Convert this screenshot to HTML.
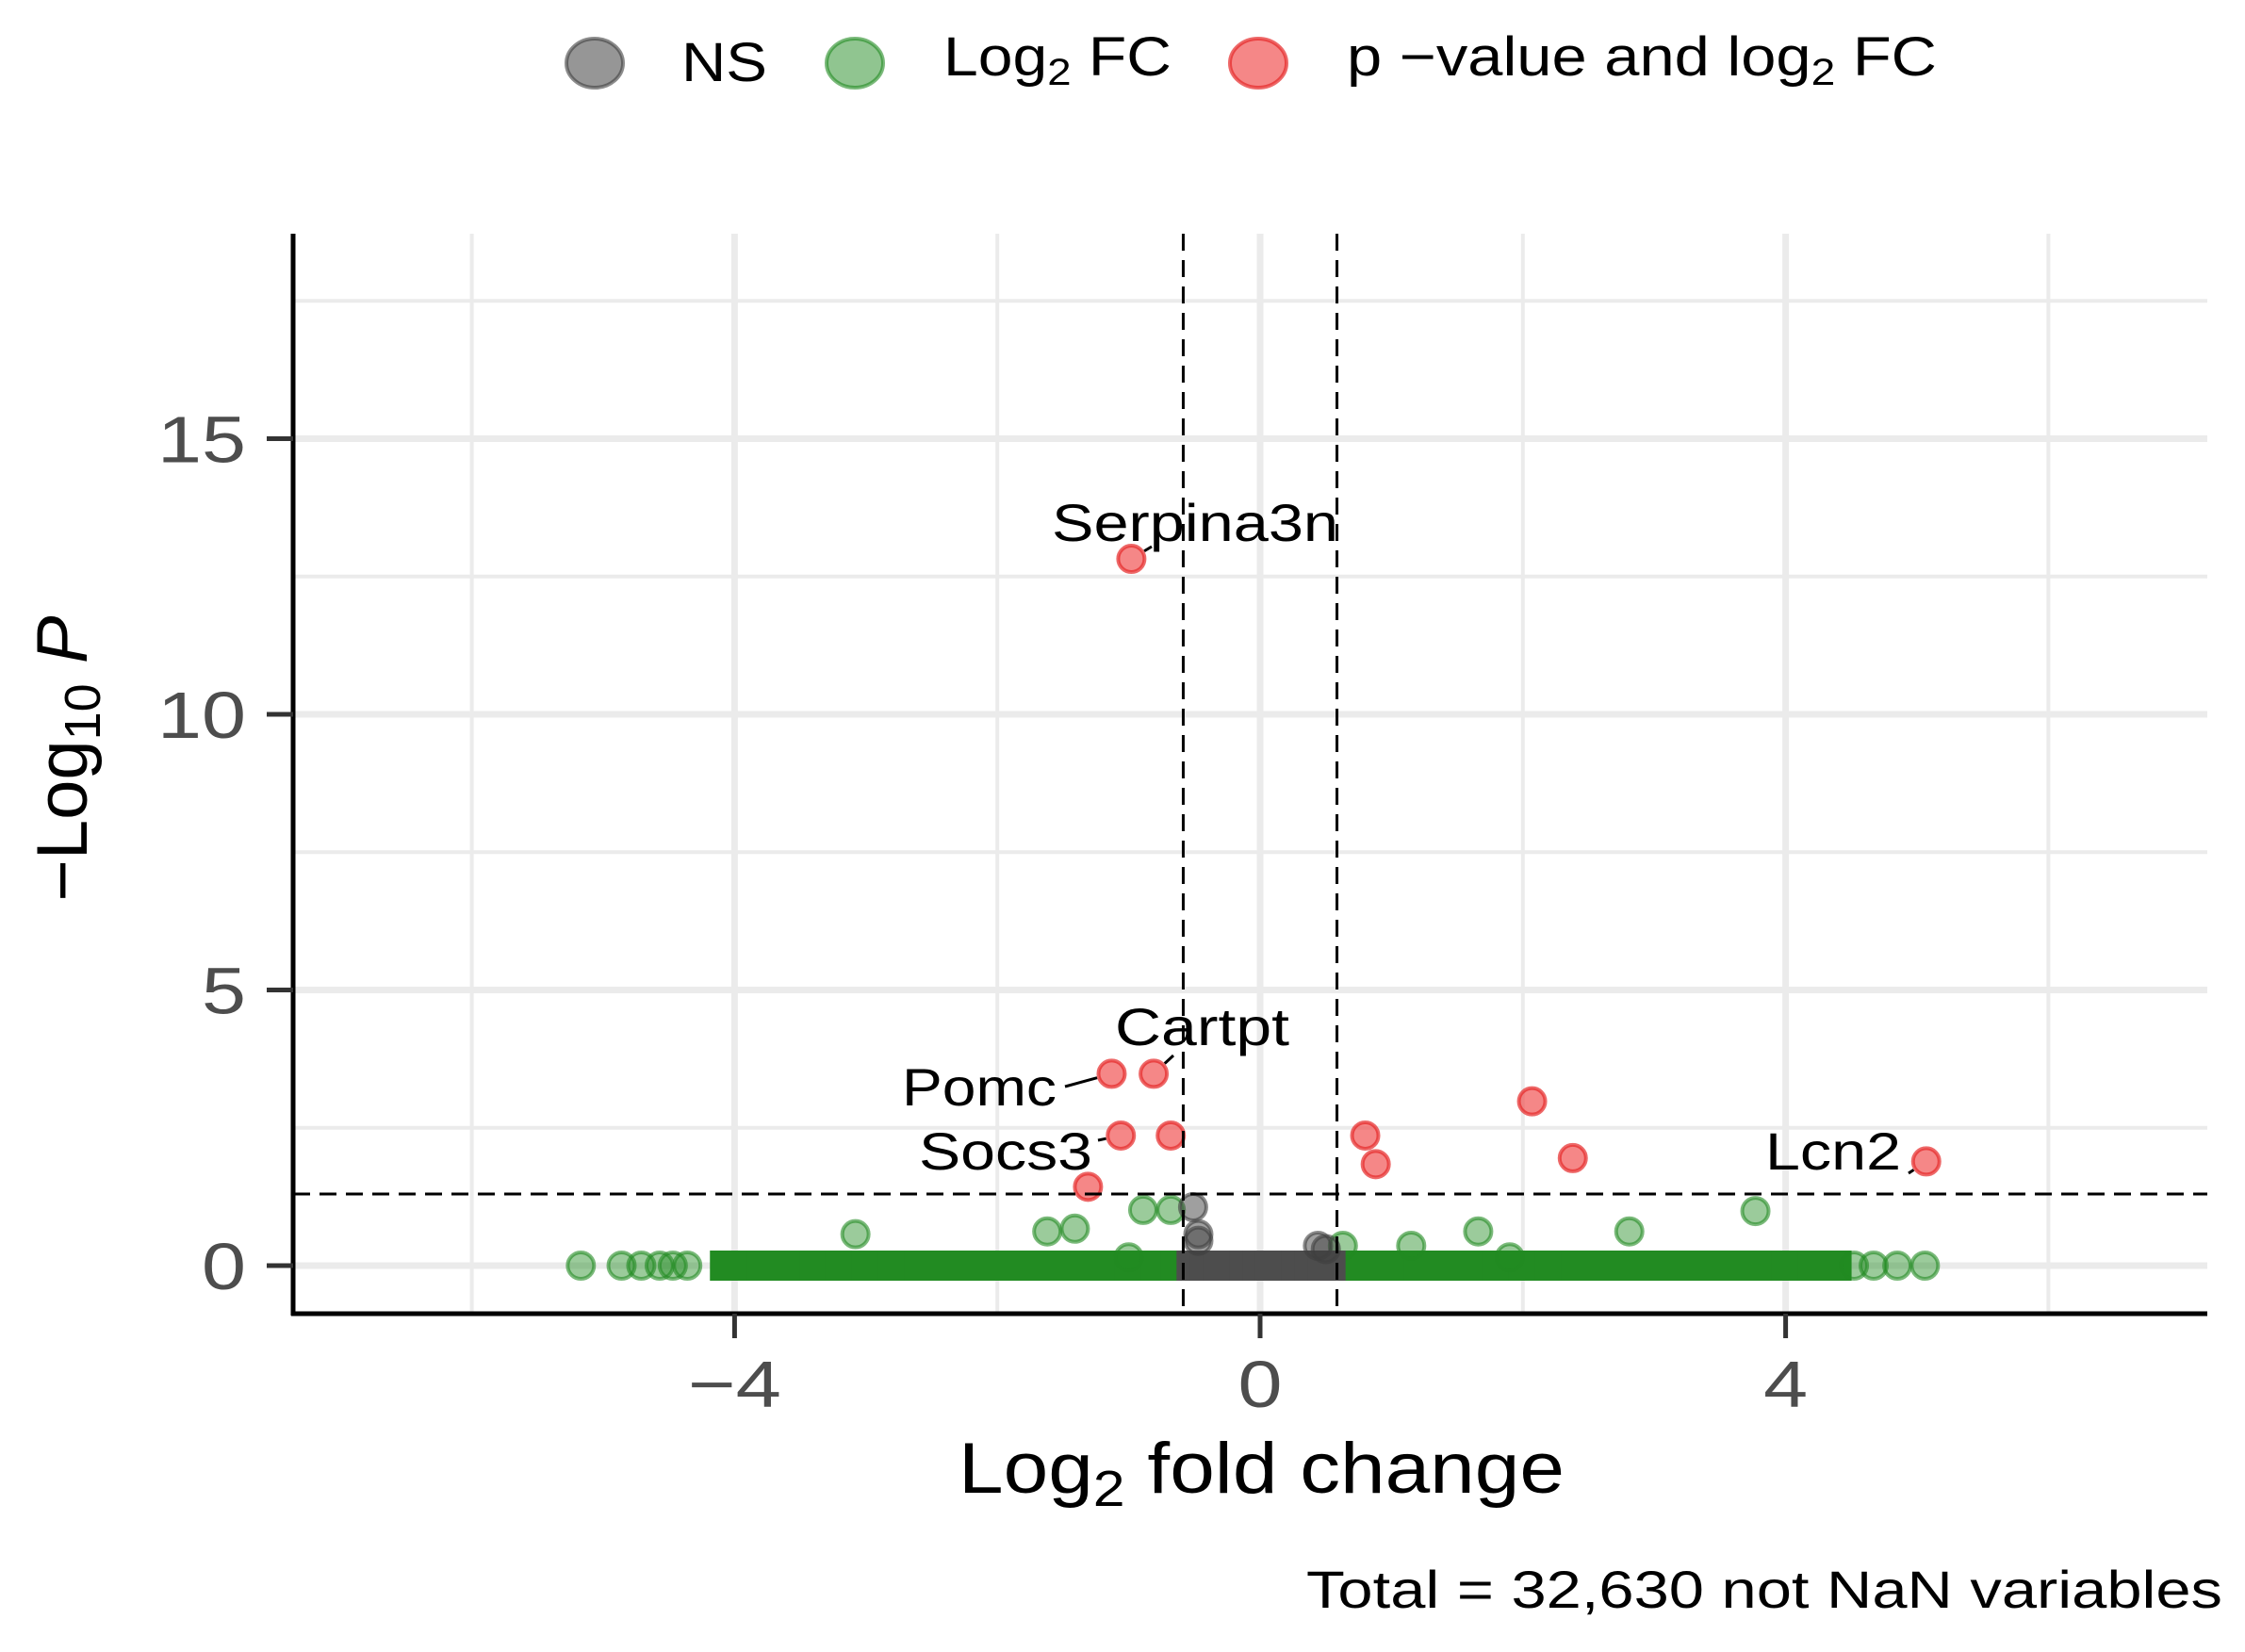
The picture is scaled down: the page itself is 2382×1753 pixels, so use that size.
<!DOCTYPE html>
<html><head><meta charset="utf-8"><style>
html,body{margin:0;padding:0;background:#fff;}
svg{display:block;font-family:"Liberation Sans",sans-serif;}
</style></head><body>
<svg id="chart" width="2382" height="1753" viewBox="0 0 2382 1753" xmlns="http://www.w3.org/2000/svg" style="position:absolute;left:0;top:0">
<g id="grid"></g>
<g id="pts"></g>
<g id="ax"></g>
</svg>
<script>
// ---- data ----
const xTicks = [-4, 0, 4];
const yTicks = [0, 5, 10, 15];
const xGrid = [-6, -4, -2, 0, 2, 4, 6];
const yGrid = [0, 2.5, 5, 7.5, 10, 12.5, 15, 17.5];
const fcCut = 0.585;
const pCut = 1.3;
const redX = [-0.98, -1.13, -0.81, -1.06, -0.68, -1.31, 0.80, 0.88, 2.07, 2.38, 5.07];
const redY = [12.82, 3.48, 3.48, 2.36, 2.36, 1.43, 2.36, 1.84, 2.98, 1.95, 1.89];
const greenX = [-3.08, -1.62, -1.41, -0.89, -0.68, 1.66, 2.81, 3.77, 1.15, 0.63, -1.0, 1.9,
  -5.17, -4.86, -4.71, -4.57, -4.47, -4.36, 4.52, 4.67, 4.85, 5.06];
const greenY = [0.57, 0.62, 0.67, 1.01, 1.01, 0.62, 0.62, 0.99, 0.36, 0.36, 0.15, 0.15,
  0, 0, 0, 0, 0, 0, 0, 0, 0, 0];
const bandGreenX = [-4.08,-4.0,-3.8,-3.6,-3.4,-3.2,-3.0,-2.8,-2.6,-2.4,-2.2,-2.0,-1.8,-1.6,-1.4,-1.2,-1.0,-0.8,-0.65,
  0.65,0.8,1.0,1.2,1.4,1.6,1.8,2.0,2.2,2.4,2.6,2.8,3.0,3.2,3.4,3.6,3.8,4.0,4.2,4.38];
const greyX = [-0.51, -0.47, -0.47, 0.44, 0.5];
const greyY = [1.06, 0.57, 0.45, 0.36, 0.3];
const bandGreyX = [-0.55,-0.45,-0.35,-0.25,-0.15,-0.05,0.05,0.15,0.25,0.35,0.45,0.55];
const geneNames = ["Serpina3n","Cartpt","Pomc","Socs3","Lcn2"];
const genePoint = [0, 2, 1, 3, 10];

// ---- scales ----
const X0 = 1337, XU = 139.4, Y0 = 1343, YU = 58.5;
const L = 311, R = 2342, T = 248, B = 1394;
const sx = v => X0 + v * XU;
const sy = v => Y0 - v * YU;
const NS = "http://www.w3.org/2000/svg";
function mk(tag, attrs, parent){const e=document.createElementNS(NS,tag);for(const k in attrs)e.setAttribute(k,attrs[k]);parent.appendChild(e);return e;}
const grid = document.getElementById('grid'), pts = document.getElementById('pts'), ax = document.getElementById('ax');

xGrid.forEach(v=>{
  const l = mk('line',{x1:sx(v),x2:sx(v),y1:T,y2:B,stroke:'#ebebeb','stroke-width':(v%4===0)?7:4},grid);
   });
yGrid.forEach(v=>{const l = mk('line',{x1:L,x2:R,y1:sy(v),y2:sy(v),stroke:'#ebebeb','stroke-width':(v%5===0)?7:4},grid);
   });

function dot(x,y,fill,stroke,name){const c=mk('circle',{cx:sx(x),cy:sy(y),r:14,fill:fill,stroke:stroke,'stroke-width':4},pts);
   }
bandGreenX.forEach(x=>{const r=mk('rect',{x:sx(x)-15,y:sy(0)-16,width:32,height:32,fill:'#228b22'},pts);
   });
greenX.forEach((x,i)=>dot(x,greenY[i],'rgba(34,139,34,0.45)','rgba(34,139,34,0.6)','fc-point'));
bandGreyX.forEach(x=>{const r=mk('rect',{x:sx(x)-12,y:sy(0)-16,width:26,height:32,fill:'#4d4d4d'},pts);
   });
greyX.forEach((x,i)=>dot(x,greyY[i],'rgba(64,64,64,0.5)','rgba(64,64,64,0.6)','ns-point'));
redX.forEach((x,i)=>dot(x,redY[i],'rgba(240,70,70,0.65)','rgba(230,40,40,0.7)','sig-point'));

[-fcCut, fcCut].forEach(v=>{const l=mk('line',{x1:sx(v),x2:sx(v),y1:T,y2:B,stroke:'#000','stroke-width':3,'stroke-dasharray':'18,10'},ax);
   });
{const l=mk('line',{x1:L,x2:R,y1:sy(pCut),y2:sy(pCut),stroke:'#000','stroke-width':3,'stroke-dasharray':'18,10'},ax);
  }

{const l=mk('line',{x1:L,x2:L,y1:T,y2:B+2,stroke:'#000','stroke-width':5},ax);
 const m=mk('line',{x1:L-2,x2:R,y1:B,y2:B,stroke:'#000','stroke-width':5},ax);}
yTicks.forEach(v=>{mk('line',{x1:L-28,x2:L,y1:sy(v),y2:sy(v),stroke:'#333','stroke-width':5},ax);
  const s=String(v);
  const t=mk('text',{x:L-50,y:sy(v)+25,'text-anchor':'end','font-size':70,fill:'#4d4d4d',textLength:s.length*47,lengthAdjust:'spacingAndGlyphs'},ax);t.textContent=s;
   });
xTicks.forEach(v=>{mk('line',{x1:sx(v),x2:sx(v),y1:B,y2:B+26,stroke:'#333','stroke-width':5},ax);
  const s=v<0?'\u2212'+(-v):String(v);
  const t=mk('text',{x:sx(v),y:1493,'text-anchor':'middle','font-size':70,fill:'#4d4d4d',textLength:v<0?99:47,lengthAdjust:'spacingAndGlyphs'},ax);t.textContent=s;
   });

// gene labels
const labelPos = [[1116,574,304],[1183,1109,185],[957,1173,164],[975,1241,184],[1873,1241,144]];
const arrowStart = [[1222,580],[1245,1120],[1130,1153],[1165,1210],[2025,1245]];
geneNames.forEach((g,i)=>{const p=labelPos[i];
  const t=mk('text',{x:p[0],y:p[1],'font-size':56,fill:'#000',textLength:p[2],lengthAdjust:'spacingAndGlyphs'},ax);
  t.textContent=g;  
  const k=genePoint[i], a=arrowStart[i];
  const ex=sx(redX[k]), ey=sy(redY[k]);
  const dx=ex-a[0], dy=ey-a[1], d=Math.hypot(dx,dy)||1;
  const l=mk('line',{x1:ex-dx/d*16,y1:ey-dy/d*16,x2:a[0],y2:a[1],stroke:'#000','stroke-width':3},ax);
   
});
</script>
<svg style="position:absolute;left:0;top:0" width="2382" height="1753" xmlns="http://www.w3.org/2000/svg" font-family="Liberation Sans, sans-serif">
  <g>
    <ellipse cx="631" cy="67" rx="30" ry="26" fill="rgba(64,64,64,0.55)" stroke="rgba(64,64,64,0.6)" stroke-width="4"/>
    <text x="723" y="86" font-size="58" textLength="91" lengthAdjust="spacingAndGlyphs">NS</text>
    <ellipse cx="907" cy="67" rx="30" ry="26" fill="rgba(34,139,34,0.5)" stroke="rgba(34,139,34,0.6)" stroke-width="4"/>
    <text x="1001" y="80" font-size="58" textLength="242" lengthAdjust="spacingAndGlyphs">Log<tspan font-size="40" dy="10">2</tspan><tspan dy="-10"> FC</tspan></text>
    <ellipse cx="1335" cy="67" rx="30" ry="26" fill="rgba(240,70,70,0.65)" stroke="rgba(230,40,40,0.7)" stroke-width="4"/>
    <text x="1429" y="80" font-size="58" textLength="626" lengthAdjust="spacingAndGlyphs">p −value and log<tspan font-size="40" dy="10">2</tspan><tspan dy="-10"> FC</tspan></text>
  </g>
  <text x="1017" y="1584" font-size="76" textLength="643" lengthAdjust="spacingAndGlyphs">Log<tspan font-size="54" dy="14">2</tspan><tspan dy="-14"> fold change</tspan></text>
  <text transform="translate(92,805) rotate(-90)" font-size="76" text-anchor="middle">−Log<tspan font-size="54" dy="14">10</tspan><tspan dy="-14" font-style="italic"> P</tspan></text>
  <text x="1386" y="1706" font-size="56" textLength="972" lengthAdjust="spacingAndGlyphs">Total = 32,630 not NaN variables</text>
</svg>
</body></html>
